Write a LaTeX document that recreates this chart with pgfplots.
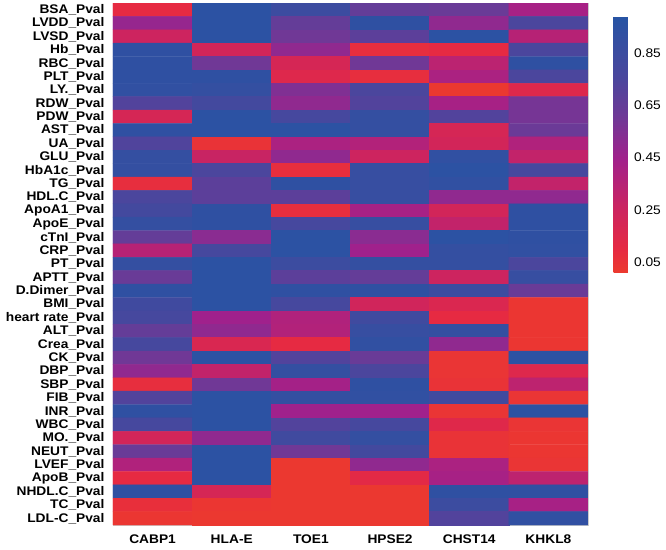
\documentclass[border=0pt]{standalone}
\usepackage{pgfplots}
\pgfplotsset{compat=1.18}
\usepackage{fontspec}
\setmainfont{Liberation Sans}[FakeStretch=1.1]

\pgfplotsset{
  colormap={pv}{
    rgb255(1pt)=(236,58,46)
    rgb255(10pt)=(230,42,66)
    rgb255(25pt)=(205,36,95)
    rgb255(45pt)=(160,33,140)
    rgb255(60pt)=(112,56,150)
    rgb255(75pt)=(75,70,157)
    rgb255(99pt)=(38,84,164)
  }
}

\begin{document}
\begin{tikzpicture}
\path[use as bounding box] (-113pt,-24pt) rectangle (553pt,525pt);
\begin{axis}[
  at={(0,0)}, anchor=south west,
  scale only axis, width=475pt, height=522pt,
  xmin=-0.5, xmax=5.5, ymin=-0.5, ymax=38.5,
  y dir=reverse,
  colormap name=pv,
  point meta min=0.01, point meta max=0.99,
  axis line style={gray!40},
  major tick length=0,
  xtick={0,...,5},
  xticklabels={CABP1,HLA-E,TOE1,HPSE2,CHST14,KHKL8},
  ytick={0,...,38},
  yticklabels={BSA\_Pval,LVDD\_Pval,LVSD\_Pval,Hb\_Pval,RBC\_Pval,PLT\_Pval,LY.\_Pval,RDW\_Pval,PDW\_Pval,AST\_Pval,UA\_Pval,GLU\_Pval,HbA1c\_Pval,TG\_Pval,HDL.C\_Pval,ApoA1\_Pval,ApoE\_Pval,cTnI\_Pval,CRP\_Pval,PT\_Pval,APTT\_Pval,D.Dimer\_Pval,BMI\_Pval,heart rate\_Pval,ALT\_Pval,Crea\_Pval,CK\_Pval,DBP\_Pval,SBP\_Pval,FIB\_Pval,INR\_Pval,WBC\_Pval,MO.\_Pval,NEUT\_Pval,LVEF\_Pval,ApoB\_Pval,NHDL.C\_Pval,TC\_Pval,LDL-C\_Pval},
  yticklabel style={font=\fontsize{12.5}{13}\selectfont\bfseries, xshift=-5pt},
  xticklabel style={font=\fontsize{12.5}{13}\selectfont\bfseries, yshift=-6pt},
  colorbar right,
  colorbar style={
    at={(parent axis.north east)}, anchor=north west,
    xshift=17pt, yshift=-13pt,
    width=17pt, height=257pt,
    axis line style={draw=none},
    major tick length=0,
    ytick={0.05,0.25,0.45,0.65,0.85},
    yticklabels={0.05,0.25,0.45,0.65,0.85},
    yticklabel style={font=\fontsize{12.5}{13}\selectfont, xshift=0pt},
  },
]
\addplot[matrix plot*, mesh/cols=6, point meta=explicit] table[row sep=\\, meta=v] {
x y v\\
0 0 0.10\\ 1 0 0.95\\ 2 0 0.85\\ 3 0 0.65\\ 4 0 0.63\\ 5 0 0.42\\
0 1 0.48\\ 1 1 0.95\\ 2 1 0.65\\ 3 1 0.93\\ 4 1 0.50\\ 5 1 0.75\\
0 2 0.25\\ 1 2 0.95\\ 2 2 0.60\\ 3 2 0.68\\ 4 2 0.95\\ 5 2 0.35\\
0 3 0.93\\ 1 3 0.22\\ 2 3 0.50\\ 3 3 0.08\\ 4 3 0.10\\ 5 3 0.75\\
0 4 0.93\\ 1 4 0.60\\ 2 4 0.20\\ 3 4 0.60\\ 4 4 0.33\\ 5 4 0.93\\
0 5 0.93\\ 1 5 0.93\\ 2 5 0.15\\ 3 5 0.08\\ 4 5 0.40\\ 5 5 0.75\\
0 6 0.92\\ 1 6 0.90\\ 2 6 0.55\\ 3 6 0.75\\ 4 6 0.02\\ 5 6 0.15\\
0 7 0.72\\ 1 7 0.80\\ 2 7 0.50\\ 3 7 0.72\\ 4 7 0.42\\ 5 7 0.58\\
0 8 0.20\\ 1 8 0.95\\ 2 8 0.78\\ 3 8 0.90\\ 4 8 0.72\\ 5 8 0.58\\
0 9 0.93\\ 1 9 0.95\\ 2 9 0.95\\ 3 9 0.90\\ 4 9 0.20\\ 5 9 0.62\\
0 10 0.73\\ 1 10 0.05\\ 2 10 0.40\\ 3 10 0.37\\ 4 10 0.22\\ 5 10 0.38\\
0 11 0.90\\ 1 11 0.27\\ 2 11 0.50\\ 3 11 0.25\\ 4 11 0.92\\ 5 11 0.30\\
0 12 0.90\\ 1 12 0.75\\ 2 12 0.08\\ 3 12 0.88\\ 4 12 0.95\\ 5 12 0.78\\
0 13 0.08\\ 1 13 0.68\\ 2 13 0.93\\ 3 13 0.88\\ 4 13 0.92\\ 5 13 0.30\\
0 14 0.75\\ 1 14 0.68\\ 2 14 0.68\\ 3 14 0.88\\ 4 14 0.50\\ 5 14 0.50\\
0 15 0.80\\ 1 15 0.93\\ 2 15 0.08\\ 3 15 0.42\\ 4 15 0.22\\ 5 15 0.93\\
0 16 0.90\\ 1 16 0.93\\ 2 16 0.78\\ 3 16 0.88\\ 4 16 0.30\\ 5 16 0.93\\
0 17 0.65\\ 1 17 0.52\\ 2 17 0.95\\ 3 17 0.52\\ 4 17 0.95\\ 5 17 0.93\\
0 18 0.35\\ 1 18 0.78\\ 2 18 0.95\\ 3 18 0.45\\ 4 18 0.90\\ 5 18 0.92\\
0 19 0.90\\ 1 19 0.95\\ 2 19 0.85\\ 3 19 0.90\\ 4 19 0.90\\ 5 19 0.75\\
0 20 0.63\\ 1 20 0.95\\ 2 20 0.68\\ 3 20 0.65\\ 4 20 0.25\\ 5 20 0.88\\
0 21 0.93\\ 1 21 0.95\\ 2 21 0.93\\ 3 21 0.93\\ 4 21 0.85\\ 5 21 0.63\\
0 22 0.82\\ 1 22 0.95\\ 2 22 0.78\\ 3 22 0.23\\ 4 22 0.17\\ 5 22 0.03\\
0 23 0.78\\ 1 23 0.45\\ 2 23 0.38\\ 3 23 0.82\\ 4 23 0.10\\ 5 23 0.03\\
0 24 0.65\\ 1 24 0.50\\ 2 24 0.37\\ 3 24 0.88\\ 4 24 0.90\\ 5 24 0.03\\
0 25 0.78\\ 1 25 0.18\\ 2 25 0.10\\ 3 25 0.92\\ 4 25 0.50\\ 5 25 0.03\\
0 26 0.60\\ 1 26 0.95\\ 2 26 0.72\\ 3 26 0.63\\ 4 26 0.04\\ 5 26 0.95\\
0 27 0.50\\ 1 27 0.30\\ 2 27 0.90\\ 3 27 0.75\\ 4 27 0.04\\ 5 27 0.15\\
0 28 0.08\\ 1 28 0.60\\ 2 28 0.43\\ 3 28 0.93\\ 4 28 0.05\\ 5 28 0.32\\
0 29 0.72\\ 1 29 0.95\\ 2 29 0.90\\ 3 29 0.92\\ 4 29 0.82\\ 5 29 0.04\\
0 30 0.93\\ 1 30 0.95\\ 2 30 0.45\\ 3 30 0.45\\ 4 30 0.04\\ 5 30 0.95\\
0 31 0.78\\ 1 31 0.95\\ 2 31 0.72\\ 3 31 0.78\\ 4 31 0.14\\ 5 31 0.04\\
0 32 0.22\\ 1 32 0.50\\ 2 32 0.82\\ 3 32 0.90\\ 4 32 0.05\\ 5 32 0.03\\
0 33 0.63\\ 1 33 0.95\\ 2 33 0.60\\ 3 33 0.80\\ 4 33 0.05\\ 5 33 0.03\\
0 34 0.38\\ 1 34 0.95\\ 2 34 0.02\\ 3 34 0.50\\ 4 34 0.40\\ 5 34 0.04\\
0 35 0.10\\ 1 35 0.95\\ 2 35 0.02\\ 3 35 0.12\\ 4 35 0.42\\ 5 35 0.32\\
0 36 0.93\\ 1 36 0.20\\ 2 36 0.02\\ 3 36 0.02\\ 4 36 0.93\\ 5 36 0.93\\
0 37 0.07\\ 1 37 0.03\\ 2 37 0.02\\ 3 37 0.02\\ 4 37 0.85\\ 5 37 0.42\\
0 38 0.03\\ 1 38 0.02\\ 2 38 0.02\\ 3 38 0.02\\ 4 38 0.72\\ 5 38 0.92\\
};
\end{axis}
\end{tikzpicture}
\end{document}
